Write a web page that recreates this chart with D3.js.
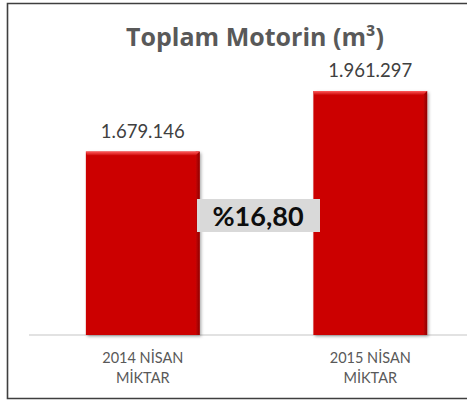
<!DOCTYPE html>
<html>
<head>
<meta charset="utf-8">
<script src="https://cdn.jsdelivr.net/npm/d3@7"></script>
<style>
  html, body { margin: 0; padding: 0; background: #fff; }
  svg { display: block; font-family: Lato, "Open Sans", sans-serif; }
</style>
</head>
<body>
<svg id="chart" width="467" height="402"></svg>
<script>
const categories = ["2014 NİSAN|MİKTAR", "2015 NİSAN|MİKTAR"];
const values = [1679146, 1961297];
const valueLabels = ["1.679.146", "1.961.297"];
const changeLabel = "%16,80";
const title = "Toplam Motorin (m³)";

const svg = d3.select("#chart");
const W = 467, H = 402;

// outer frame (right side runs off the picture)
svg.append("path")
  .attr("d", `M${W + 5},3.5 H7.5 V398.5 H${W + 5}`)
  .attr("fill", "none")
  .attr("stroke", "#3f3f3f")
  .attr("stroke-width", 1.6);

const baseline = 335;
const x = d3.scaleBand()
  .domain(categories)
  .range([29, 484])
  .paddingInner(0.5)
  .paddingOuter(0.25);

const y = d3.scaleLinear()
  .domain([825000, 2000000])
  .range([baseline, 82.7]);

const defs = svg.append("defs");
const topGrad = defs.append("linearGradient").attr("id", "topHi").attr("x1", 0).attr("y1", 0).attr("x2", 0).attr("y2", 1);
topGrad.append("stop").attr("offset", "0%").attr("stop-color", "#ff5a5a");
topGrad.append("stop").attr("offset", "100%").attr("stop-color", "#cc0505");
const sideGrad = defs.append("linearGradient").attr("id", "sideDk").attr("x1", 0).attr("y1", 0).attr("x2", 1).attr("y2", 0);
sideGrad.append("stop").attr("offset", "0%").attr("stop-color", "#c80404");
sideGrad.append("stop").attr("offset", "100%").attr("stop-color", "#8e0000");
const sh = defs.append("filter").attr("id", "shadow").attr("x", "-10%").attr("y", "-10%").attr("width", "130%").attr("height", "130%");
sh.append("feDropShadow").attr("dx", 1.5).attr("dy", 1.5).attr("stdDeviation", 1.5)
  .attr("flood-color", "#000").attr("flood-opacity", 0.35);

// axis line
svg.append("line")
  .attr("x1", x.range()[0]).attr("x2", x.range()[1])
  .attr("y1", baseline).attr("y2", baseline)
  .attr("stroke", "#d9d9d9")
  .attr("stroke-width", 1.5);

const bars = svg.selectAll("g.bar")
  .data(values)
  .enter()
  .append("g")
  .attr("class", "bar");

bars.append("rect")
  .attr("x", (d, i) => x(categories[i]))
  .attr("y", d => y(d))
  .attr("width", x.bandwidth())
  .attr("height", d => baseline - y(d))
  .attr("fill", "#cc0404")
  .attr("filter", "url(#shadow)");

bars.append("rect")
  .attr("x", (d, i) => x(categories[i]) + x.bandwidth() - 4)
  .attr("y", d => y(d))
  .attr("width", 4)
  .attr("height", d => baseline - y(d))
  .attr("fill", "url(#sideDk)");

bars.append("path")
  .attr("d", (d, i) => {
    const x0 = x(categories[i]), x1 = x0 + x.bandwidth(), y0 = y(d);
    return `M${x0},${y0} H${x1} L${x1 - 4},${y0 + 4} H${x0 + 1} Z`;
  })
  .attr("fill", "url(#topHi)");

bars.append("text")
  .attr("x", (d, i) => x(categories[i]) + x.bandwidth() / 2)
  .attr("y", d => y(d) - 14)
  .attr("text-anchor", "middle")
  .attr("fill", "#404040")
  .style("font-size", "18.5px")
  .text((d, i) => valueLabels[i]);

// category labels
categories.forEach(c => {
  const lines = c.split("|");
  const t = svg.append("text")
    .attr("text-anchor", "middle")
    .attr("fill", "#595959")
    .style("font-size", "14.5px");
  lines.forEach((ln, j) => {
    t.append("tspan")
      .attr("x", x(c) + x.bandwidth() / 2)
      .attr("y", 362.5 + j * 20.5)
      .text(ln);
  });
});

// change box
svg.append("rect")
  .attr("x", 197).attr("y", 199)
  .attr("width", 123).attr("height", 33)
  .attr("fill", "#d9d9d9");
svg.append("text")
  .attr("x", 258)
  .attr("y", 226)
  .attr("text-anchor", "middle")
  .attr("fill", "#0d0d0d")
  .style("font-size", "27px")
  .style("font-weight", "bold")
  .text(changeLabel);

svg.append("text")
  .attr("x", 255)
  .attr("y", 46)
  .attr("text-anchor", "middle")
  .attr("fill", "#595959")
  .style("font-family", "'Open Sans', sans-serif")
  .style("font-size", "25px")
  .style("font-weight", "bold")
  .text(title);
</script>
</body>
</html>
